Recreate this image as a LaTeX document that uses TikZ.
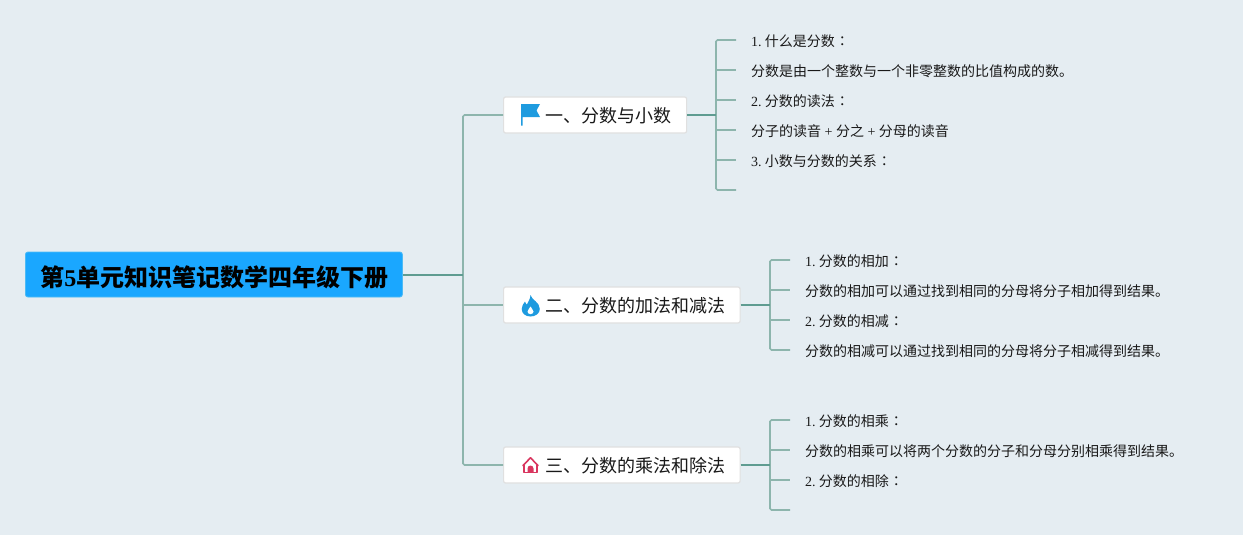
\documentclass[tikz,border=0pt]{standalone}
\usepackage{fontspec}
\setmainfont{Liberation Serif}
\newfontfamily\cjk{Noto Sans CJK SC}
\newfontfamily\cjktc{Noto Sans CJK TC}
\newcommand{\cl}{\hspace{0.5pt}{\cjktc ：}}
\newcommand{\nsp}{\hspace{3.2pt}}
\definecolor{bgc}{HTML}{E5EDF2}
\definecolor{rootc}{HTML}{1AA7FF}
\definecolor{rootb}{HTML}{4DBBF5}
\definecolor{lineA}{HTML}{5F9C91}
\definecolor{lineB}{HTML}{8DB5AD}
\definecolor{iconb}{HTML}{1E9BDF}
\definecolor{iconr}{HTML}{D9365F}
\tikzset{
 rootbox/.style={draw=rootb,line width=.8pt,fill=rootc,rounded corners=2.5pt,minimum height=45pt,inner xsep=15pt,inner ysep=0pt,text=black,text height=25pt,text depth=1.2pt,font=\fontsize{24}{28}\selectfont\cjk\bfseries},
 topicbox/.style={draw=black!12,line width=1.2pt,fill=white,rounded corners=2pt,minimum height=36pt,inner xsep=16pt,inner ysep=0pt,text=black!90,text height=16.9pt,text depth=1.1pt,font=\fontsize{18}{22}\selectfont\cjk},
 leafbox/.style={anchor=west,inner xsep=15pt,inner ysep=0pt,minimum height=22pt,text=black!90,text height=13.3pt,text depth=.7pt,font=\fontsize{14}{18}\selectfont},
 thick line/.style={draw=lineA,line width=1.8pt},
 root line/.style={draw=lineA,line width=2pt},
 bus line/.style={draw=lineB,line width=1.6pt,rounded corners=1.5pt},
 tick line/.style={draw=lineB,line width=1.4pt},
}
\begin{document}
\begin{tikzpicture}[x=1pt,y=-1pt]
\useasboundingbox[fill=bgc] (0,0) rectangle (1243,535);
\node[rootbox,anchor=west] (root) at (25,274.5) {第{\rmfamily\bfseries 5}单元知识笔记数学四年级下册\hspace*{-1pt}};
\node[topicbox,anchor=west] (t1) at (503,115) {\hspace*{26pt}一、分数与小数\hspace*{-1pt}};
\node[topicbox,anchor=west] (t2) at (503,305) {\hspace*{26pt}二、分数的加法和减法\hspace*{-1.5pt}};
\node[topicbox,anchor=west] (t3) at (503,465) {\hspace*{26pt}三、分数的乘法和除法\hspace*{-1.5pt}};
\node[leafbox] (a1) at (736,40) {1.\nsp{\cjk 什么是分数}\cl};
\node[leafbox] (a2) at (736,70) {\cjk 分数是由一个整数与一个非零整数的比值构成的数。};
\node[leafbox] (a3) at (736,100) {2.\nsp{\cjk 分数的读法}\cl};
\node[leafbox] (a4) at (736,130) {{\cjk 分子的读音} + {\cjk 分之} + {\cjk 分母的读音}};
\node[leafbox] (a5) at (736,160) {3.\nsp{\cjk 小数与分数的关系}\cl};
\coordinate (a6) at (736,190);
\node[leafbox] (b1) at (790,260) {1.\nsp{\cjk 分数的相加}\cl};
\node[leafbox] (b2) at (790,290) {\cjk 分数的相加可以通过找到相同的分母将分子相加得到结果。};
\node[leafbox] (b3) at (790,320) {2.\nsp{\cjk 分数的相减}\cl};
\node[leafbox] (b4) at (790,350) {\cjk 分数的相减可以通过找到相同的分母将分子相减得到结果。};
\node[leafbox] (c1) at (790,420) {1.\nsp{\cjk 分数的相乘}\cl};
\node[leafbox] (c2) at (790,450) {\cjk 分数的相乘可以将两个分数的分子和分母分别相乘得到结果。};
\node[leafbox] (c3) at (790,480) {2.\nsp{\cjk 分数的相除}\cl};
\coordinate (c4) at (790,510);
\coordinate (j0) at (463,274.5);
\coordinate (j1) at (716,115);
\coordinate (j2) at (770,305);
\coordinate (j3) at (770,465);
\draw[bus line] (t1.west) -| (j0) |- (t3.west);
\draw[tick line] (j0 |- t2.west) -- (t2.west);
\draw[root line] (root.east) -- (j0);
\draw[bus line] (a1.west) -| (j1) |- (a6);
\foreach \n in {a2,a3,a4,a5} \draw[tick line] (j1 |- \n.west) -- (\n.west);
\draw[thick line] (t1.east) -- (j1);
\draw[bus line] (b1.west) -| (j2) |- (b4.west);
\foreach \n in {b2,b3} \draw[tick line] (j2 |- \n.west) -- (\n.west);
\draw[thick line] (t2.east) -- (j2);
\draw[bus line] (c1.west) -| (j3) |- (c4);
\foreach \n in {c2,c3} \draw[tick line] (j3 |- \n.west) -- (\n.west);
\draw[thick line] (t3.east) -- (j3);
% flag icon
\fill[iconb] (521,104) -- (540,104) -- (536.5,110.5) -- (540,117) -- (522.6,117) -- (522.6,125.5) -- (521,125.5) -- cycle;
% flame icon
\fill[iconb] (530.5,295)
 .. controls (531.5,300) and (539.8,302) .. (539.8,309)
 .. controls (539.8,313.5) and (535.5,316.5) .. (530.5,316.5)
 .. controls (525.5,316.5) and (521.7,313.5) .. (521.7,309)
 .. controls (521.7,306) and (523.5,303.5) .. (525,301.5)
 .. controls (525.5,303) and (526,304) .. (527,304.5)
 .. controls (528,301.5) and (530.5,299) .. (530.5,295) -- cycle;
\fill[white] (530.5,306.5)
 .. controls (531,308.5) and (533.5,309.5) .. (533.5,311.5)
 .. controls (533.5,313) and (532.2,314.2) .. (530.5,314.2)
 .. controls (528.8,314.2) and (527.5,313) .. (527.5,311.5)
 .. controls (527.5,309.5) and (530,308.5) .. (530.5,306.5) -- cycle;
% house icon
\draw[iconr,line width=1.6pt,line join=round,line cap=round] (523,465.5) -- (530.5,457.8) -- (538,465.5);
\draw[iconr,line width=1.6pt,line join=round] (523.8,464.5) -- (523.8,472.5) -- (537.2,472.5) -- (537.2,464.5);
\fill[iconr] (527.5,472.5) -- (527.5,468.5) arc[start angle=180,end angle=0,radius=3pt] -- (533.5,472.5) -- cycle;
\end{tikzpicture}
\end{document}
